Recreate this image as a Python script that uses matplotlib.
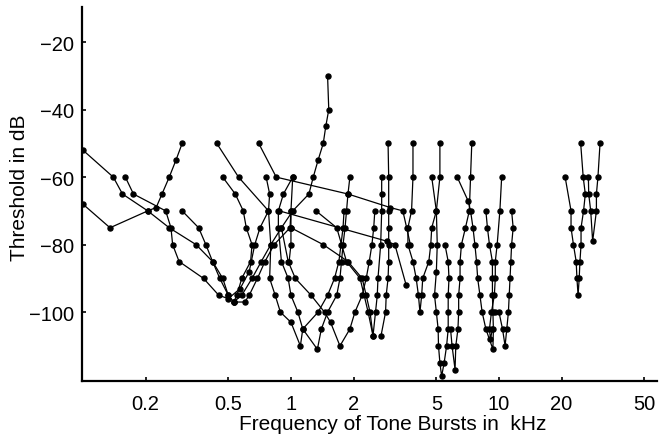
import matplotlib
matplotlib.use("Agg")
import matplotlib.pyplot as plt
from matplotlib.ticker import FixedLocator, NullLocator

# tuning curves: tone-burst frequency (kHz) vs threshold (dB), one pair per unit
u01_khz = [0.1, 0.14, 0.155, 0.205, 0.26, 0.35, 0.42, 0.47, 0.5, 0.53, 0.58, 0.65, 0.72,
           0.8, 0.9, 1.02, 1.22, 1.28, 1.35, 1.43, 1.47, 1.52, 1.5]
u01_db = [-52, -60, -65, -70, -75, -80, -85, -90, -95, -97, -95, -90, -85,
          -80, -75, -70, -65, -60, -55, -50, -45, -40, -30]
u02_khz = [0.1, 0.135, 0.205, 0.225, 0.24, 0.26, 0.28, 0.3]
u02_db = [-68, -75, -70, -69, -65, -60, -55, -50]
u03_khz = [0.16, 0.175, 0.25, 0.265, 0.27, 0.29, 0.38, 0.45, 0.5, 0.57, 0.63, 0.67, 0.71,
           0.78, 0.79, 0.76]
u03_db = [-60, -65, -70, -75, -80, -85, -90, -95, -96, -93, -88, -80, -75, -70, -65, -60]
u04_khz = [0.3, 0.36, 0.39, 0.42, 0.455, 0.5, 0.53, 0.6, 0.63, 0.69, 0.75, 0.83, 0.99, 1.0]
u04_db = [-70, -75, -80, -85, -90, -95, -97, -97, -95, -90, -85, -80, -75, -70]
u05_khz = [0.44, 0.56, 0.78, 0.8, 0.79, 0.84, 0.89, 1.0, 1.11, 1.14, 1.35, 1.5, 1.62,
           1.7, 1.74, 1.78, 1.8]
u05_db = [-50, -60, -70, -80, -90, -95, -100, -103, -110, -105, -100, -95, -90,
          -85, -80, -75, -70]
u06_khz = [0.7, 0.85, 1.88, 3.0, 3.45, 3.6, 3.75]
u06_db = [-50, -60, -65, -69, -70, -75, -80]
u07_khz = [0.88, 2.9, 3.16, 3.58]
u07_db = [-70, -79, -80, -92]
u08_khz = [1.0, 1.43, 1.88, 2.2, 2.3, 2.4, 2.48, 2.55, 2.6, 2.62, 2.7, 2.73, 2.73, 2.73]
u08_db = [-75, -80, -85, -90, -95, -100, -107, -100, -95, -90, -80, -70, -65, -60]
u09_khz = [1.02, 0.92, 0.87, 0.87, 0.9, 0.97, 1.0, 1.08, 1.14, 1.34, 1.4, 1.5, 1.66,
           1.72, 1.75, 1.78, 1.82, 1.85, 1.88, 1.92]
u09_db = [-60, -65, -70, -75, -85, -90, -95, -100, -105, -111, -105, -100, -95,
          -90, -85, -80, -75, -70, -65, -60]
u10_khz = [0.9, 0.97, 1.05, 1.25, 1.45, 1.55, 1.72, 1.92, 2.03, 2.2, 2.3, 2.38, 2.45,
           2.5, 2.53]
u10_db = [-75, -85, -90, -95, -100, -103, -110, -105, -100, -95, -90, -85, -80, -75, -70]
u11_khz = [2.93, 2.95, 2.95, 2.95, 2.95, 2.95, 2.93, 2.87, 2.85, 2.71]
u11_db = [-50, -60, -70, -75, -80, -85, -90, -95, -100, -107]
u12_khz = [1.32, 1.66, 1.85, 2.15, 2.35, 2.48]
u12_db = [-70, -75, -85, -90, -100, -107]
u13_khz = [3.86, 3.86, 3.8, 3.65, 3.65, 3.86, 4.0, 4.1, 4.17, 4.25, 4.3, 4.6, 4.7,
           4.75, 5.0, 5.2, 5.2]
u13_db = [-50, -60, -70, -75, -80, -85, -90, -95, -100, -95, -90, -85, -80,
          -75, -70, -60, -50]
u14_khz = [4.75, 5.0, 5.05, 5.0, 4.9, 5.0, 5.1, 5.12, 5.2, 5.3, 5.45, 5.6, 5.7, 5.7,
           5.7, 5.75, 5.7, 5.5]
u14_db = [-60, -70, -80, -88, -95, -100, -105, -110, -115, -119, -115, -110, -105, -100,
          -95, -90, -85, -80]
u15_khz = [7.4, 7.3, 7.2, 6.9, 6.6, 6.5, 6.5, 6.4, 6.4, 6.35, 6.2, 6.15, 5.95, 5.85]
u15_db = [-50, -60, -70, -75, -80, -85, -90, -95, -100, -105, -110, -117, -110, -105]
u16_khz = [6.3, 7.1, 7.3, 7.5, 7.66, 7.8, 7.9, 8.1, 8.3, 8.65, 9.35, 9.4, 9.35, 9.3,
           9.3, 9.3, 9.0, 8.8, 8.65]
u16_db = [-60, -67, -70, -75, -80, -85, -90, -95, -100, -105, -111, -105, -100, -95,
          -90, -85, -80, -75, -70]
u17_khz = [10.3, 10.1, 9.8, 9.6, 9.6, 9.5, 9.2, 9.0, 9.1, 9.3]
u17_db = [-60, -70, -80, -85, -90, -95, -100, -105, -108, -105]
u18_khz = [11.5, 11.7, 11.5, 11.4, 11.3, 11.2, 11.1, 10.9, 10.7, 10.4, 10.0, 9.6]
u18_db = [-70, -75, -80, -85, -90, -95, -100, -105, -110, -105, -100, -100]
u19_khz = [20.8, 22.2, 22.2, 22.8, 23.5, 23.7, 24.0, 24.3, 24.5, 24.8, 24.8, 25.5,
           26.0, 25.4, 24.7]
u19_db = [-60, -70, -75, -80, -85, -90, -95, -90, -85, -80, -75, -70, -65, -60, -50]
u20_khz = [30.6, 29.9, 29.4, 29.4, 28.2, 27.6, 27.0, 26.9]
u20_db = [-50, -60, -65, -70, -79, -70, -65, -60]
u21_khz = [0.47, 0.54, 0.59, 0.61, 0.65, 0.64, 0.58, 0.55, 0.53]
u21_db = [-60, -65, -70, -75, -80, -85, -90, -95, -97]
u22_khz = [1.02, 1.0, 1.0, 1.0, 0.98]
u22_db = [-60, -70, -75, -80, -85]

units = [(u01_khz, u01_db), (u02_khz, u02_db), (u03_khz, u03_db), (u04_khz, u04_db),
         (u05_khz, u05_db), (u06_khz, u06_db), (u07_khz, u07_db), (u08_khz, u08_db),
         (u09_khz, u09_db), (u10_khz, u10_db), (u11_khz, u11_db), (u12_khz, u12_db),
         (u13_khz, u13_db), (u14_khz, u14_db), (u15_khz, u15_db), (u16_khz, u16_db),
         (u17_khz, u17_db), (u18_khz, u18_db), (u19_khz, u19_db), (u20_khz, u20_db),
         (u21_khz, u21_db), (u22_khz, u22_db)]

x_ticks = [0.2, 0.5, 1, 2, 5, 10, 20, 50]
x_labels = ["0.2", "0.5", "1", "2", "5", "10", "20", "50"]
y_ticks = [-100, -80, -60, -40, -20]

plt.rcParams["font.family"] = ["Liberation Sans", "DejaVu Sans"]

fig = plt.figure(figsize=(6.65, 4.35), dpi=100)
ax = fig.add_axes([0.1233, 0.1218, 0.8647, 0.8598])

for khz, db in units:
    ax.plot(khz, db, color="black", lw=0.9, marker="o", ms=3.6,
            mfc="black", mec="black")

ax.set_xscale("log")
ax.set_xlim(0.099, 57.5)
ax.set_ylim(-120.4, -9.6)
ax.xaxis.set_major_locator(FixedLocator(x_ticks))
ax.xaxis.set_minor_locator(NullLocator())
ax.set_xticklabels(x_labels)
ax.set_yticks(y_ticks)

for side in ("top", "right"):
    ax.spines[side].set_visible(False)
for side in ("left", "bottom"):
    ax.spines[side].set_linewidth(1.6)
ax.tick_params(direction="in", length=3, width=1.2, labelsize=14.5)
ax.tick_params(axis="x", pad=9)
ax.tick_params(axis="y", pad=6)

# labels sit a bit off-centre in the original
ax.set_xlabel("Frequency of Tone Bursts in  kHz", fontsize=15, labelpad=1, x=0.541)
ax.set_ylabel("Threshold in dB", fontsize=15, labelpad=0, y=0.52)

fig.savefig("out.png", dpi=100)
